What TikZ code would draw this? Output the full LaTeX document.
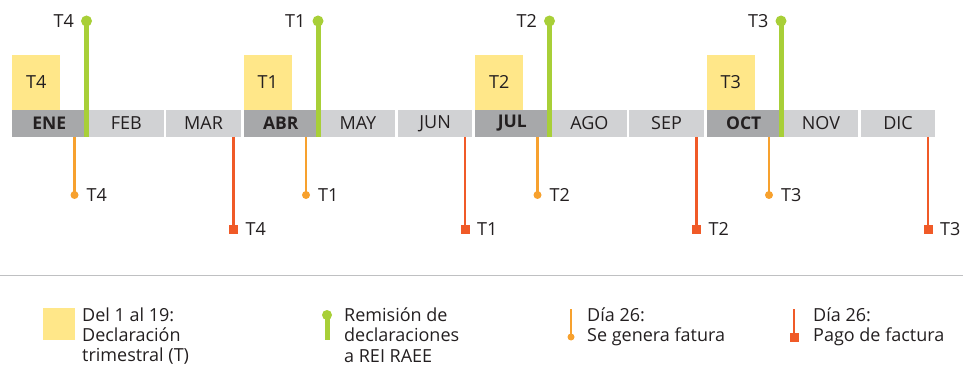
\documentclass[tikz,border=0pt]{standalone}
\usepackage{fontspec}
\setmainfont{Open Sans}
\definecolor{txt}{HTML}{231F20}
\definecolor{darkm}{HTML}{A7A8AA}
\definecolor{lightm}{HTML}{D1D2D4}
\definecolor{yel}{HTML}{FFE789}
\definecolor{grn}{HTML}{A8CF38}
\definecolor{org}{HTML}{F7A12E}
\definecolor{rd}{HTML}{F05A28}
\definecolor{sep}{HTML}{BFC0C2}
\tikzset{
  mdark/.style={fill=darkm, minimum width=74.5pt, minimum height=27pt, inner sep=0pt, text=txt, font=\fontsize{17.5}{20}\selectfont\bfseries},
  mlight/.style={fill=lightm, minimum width=74.5pt, minimum height=27pt, inner sep=0pt, text=txt, font=\fontsize{18}{20}\selectfont},
  ybox/.style={fill=yel, minimum width=48pt, minimum height=55pt, inner sep=0pt, text=txt, font=\fontsize{18}{20}\selectfont},
  lab/.style={inner sep=0pt, text=txt, font=\fontsize{18}{20}\selectfont},
  gdot/.style={circle, fill=grn, minimum size=11pt, inner sep=0pt},
  gline/.style={draw=grn, line width=5pt},
  odot/.style={circle, fill=org, minimum size=8pt, inner sep=0pt},
  oline/.style={draw=org, line width=2.6pt},
  rsq/.style={rectangle, fill=rd, minimum size=9pt, inner sep=0pt},
  rline/.style={draw=rd, line width=2.6pt},
  legtxt/.style={inner sep=0pt, text=txt, align=left, font=\fontsize{18}{20.3}\selectfont},
}
\begin{document}
\begin{tikzpicture}[x=1pt,y=-1pt]
\useasboundingbox (0,0) rectangle (963,366);
\foreach \q/\a/\b/\c/\lab in {0/ENE/FEB/MAR/4, 1/ABR/MAY/JUN/1, 2/JUL/AGO/SEP/2, 3/OCT/NOV/DIC/3}{
  \pgfmathsetmacro\x{12+231.5*\q}
  % yellow declaration box
  \node[ybox, anchor=south west] (y\q) at (\x,110) {T\lab};
  % months
  \node[mdark] (ma\q) at (\x+37.25,123.5) {\a};
  \node[mlight] (mb\q) at (\x+77.17+37.25,123.5) {\b};
  \node[mlight] (mc\q) at (\x+154.33+37.25,123.5) {\c};
  % green remission pin
  \node[gdot] (gd\q) at (\x+74.5,21) {};
  \coordinate (gb\q) at (\x+74.5,137);
  \draw[gline] (gd\q.center) -- (gb\q);
  \node[lab, anchor=east] (gl\q) at (\x+62,21) {T\lab};
  % orange invoice
  \coordinate (ot\q) at (\x+62.5,137);
  \node[odot] (od\q) at (\x+62.5,195) {};
  \draw[oline] (ot\q) -- (od\q.center);
  \node[lab, anchor=west] (ol\q) at (\x+74.5,195) {T\lab};
  % red payment
  \coordinate (rt\q) at (\x+221.5,137);
  \node[rsq] (rs\q) at (\x+221.5,229) {};
  \draw[rline] (rt\q) -- (rs\q.center);
  \node[lab, anchor=west] (rl\q) at (\x+233.5,229) {T\lab};
}
% separator
\coordinate (s1) at (0,275);
\coordinate (s2) at (963,275);
\draw[sep, line width=1pt] (s1) -- (s2);
% legend
\node[fill=yel, minimum size=32pt, inner sep=0pt] (ly) at (59,324) {};
\node[legtxt, anchor=north west] (lyt) at (82,307.5) {Del 1 al 19:\\Declaración\\trimestral (T)};
\node[gdot, minimum size=10pt] (lgd) at (327,315) {};
\coordinate (lgb) at (327,340);
\draw[gline] (lgd.center) -- (lgb);
\node[legtxt, anchor=north west] (lgt) at (344,307.5) {Remisión de\\declaraciones\\a REI RAEE};
\coordinate (lot) at (571,309);
\node[odot, minimum size=7pt] (lod) at (571,337) {};
\draw[oline] (lot) -- (lod.center);
\node[legtxt, anchor=north west] (lotx) at (587,307.5) {Día 26:\\Se genera fatura};
\coordinate (lrt) at (794,309);
\node[rsq] (lrs) at (794,337) {};
\draw[rline] (lrt) -- (lrs.center);
\node[legtxt, anchor=north west] (lrtx) at (813,307.5) {Día 26:\\Pago de factura};
\end{tikzpicture}
\end{document}
